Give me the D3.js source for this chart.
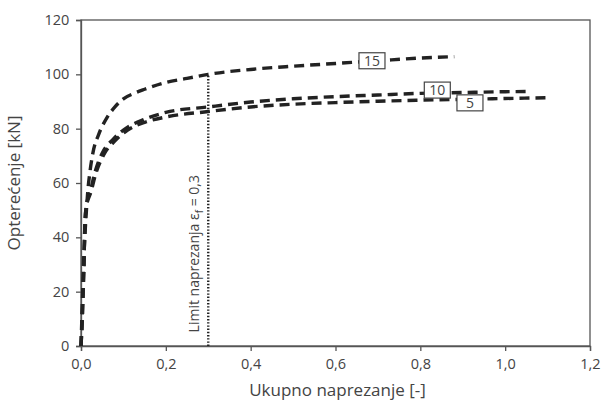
<!DOCTYPE html>
<meta charset="utf-8">
<body style="margin:0;background:#fff">
<script src="https://d3js.org/d3.v7.min.js"></script>
<script>
// values: [strain, load kN]
var strain15 = [0, 0.002, 0.004, 0.006, 0.009, 0.012, 0.016, 0.021, 0.028, 0.042, 0.061, 0.08, 0.1, 0.125, 0.15, 0.2, 0.25, 0.3, 0.4, 0.5, 0.6, 0.7, 0.8, 0.88];
var load15   = [0, 10, 20, 30, 40, 48, 57, 64, 71, 78, 84, 88, 91, 93, 94.5, 97, 98.5, 100, 101.8, 103, 104, 105, 106, 106.5];
var strain10 = [0, 0.003, 0.005, 0.007, 0.009, 0.012, 0.022, 0.033, 0.05, 0.075, 0.1, 0.15, 0.2, 0.3, 0.4, 0.5, 0.6, 0.7, 0.8, 0.9, 1.0, 1.05];
var load10   = [0, 10, 20, 30, 44.5, 51, 57, 64, 71, 76, 79.5, 83.5, 86, 88, 89.8, 91, 91.8, 92.4, 93, 93.3, 93.6, 93.7];
var strain5  = [0, 0.003, 0.005, 0.007, 0.009, 0.012, 0.024, 0.035, 0.054, 0.08, 0.11, 0.15, 0.2, 0.3, 0.4, 0.5, 0.6, 0.7, 0.8, 0.9, 1.0, 1.1];
var load5    = [0, 10, 20, 30, 44, 50.5, 57, 63.5, 70.5, 75.5, 79.5, 82.3, 84.3, 86.3, 88, 89, 89.6, 90.1, 90.5, 90.8, 91.1, 91.4];
var seriesNames = ["15", "10", "5"];
// where the curve labels sit [strain, load]
var labelAt = [[0.686, 105], [0.84, 94.2], [0.917, 89.5]];
var limitStrain = 0.3, limitLoad = 100;
var xTicks = [0, 0.2, 0.4, 0.6, 0.8, 1.0, 1.2];
var yTicks = [0, 20, 40, 60, 80, 100, 120];

var width = 601, height = 402;
var margin = {left: 81, top: 20, right: 11, bottom: 56};

var svg = d3.select("body").append("svg")
    .attr("width", width)
    .attr("height", height)
    .style("font-family", "'Open Sans', sans-serif");

var x = d3.scaleLinear().domain([0, 1.2]).range([margin.left, width - margin.right]);
var y = d3.scaleLinear().domain([0, 120]).range([height - margin.bottom, margin.top]);

var fmt = function(d) { return d3.format(".1f")(d).replace(".", ","); };

// frame
svg.append("rect")
    .attr("x", x(0)).attr("y", y(120))
    .attr("width", x(1.2) - x(0)).attr("height", y(0) - y(120))
    .attr("fill", "none").attr("stroke", "#555").attr("stroke-width", 1.3);

var xAxis = svg.append("g")
    .attr("transform", "translate(0," + y(0) + ")")
    .call(d3.axisBottom(x).tickValues(xTicks).tickFormat(fmt).tickSize(5));
var yAxis = svg.append("g")
    .attr("transform", "translate(" + x(0) + ",0)")
    .call(d3.axisLeft(y).tickValues(yTicks).tickSize(5));

[xAxis, yAxis].forEach(function(a) {
  a.select(".domain").attr("stroke", "#555").attr("stroke-width", 1.3);
  a.selectAll(".tick line").attr("stroke", "#555").attr("stroke-width", 1.3);
  a.selectAll(".tick text").attr("fill", "#444").style("font-size", "14.5px")
    .style("font-family", "'Open Sans', sans-serif");
});
xAxis.selectAll(".tick text").attr("dy", "1.05em");
yAxis.selectAll(".tick text").attr("dx", "-0.25em");

// axis titles
svg.append("text")
    .attr("x", (x(0) + x(1.2)) / 2 + 2).attr("y", 396)
    .attr("text-anchor", "middle").attr("fill", "#444")
    .style("font-size", "17px")
    .text("Ukupno naprezanje [-]");
svg.append("text")
    .attr("transform", "translate(20," + (y(60)) + ")rotate(-90)")
    .attr("text-anchor", "middle").attr("fill", "#444")
    .style("font-size", "17px")
    .text("Opterećenje [kN]");

// limit line
svg.append("line")
    .attr("x1", x(limitStrain)).attr("x2", x(limitStrain))
    .attr("y1", y(0)).attr("y2", y(limitLoad))
    .attr("stroke", "#222").attr("stroke-width", 2.4)
    .attr("stroke-dasharray", "1.4,1.8");

var lim = svg.append("text")
    .attr("transform", "translate(" + (x(limitStrain) - 9) + "," + (y(5)) + ")rotate(-90)")
    .attr("fill", "#444").style("font-size", "14px");
lim.append("tspan").text("Limit naprezanja ε");
lim.append("tspan").attr("dy", 4).style("font-size", "10px").text("f");
lim.append("tspan").attr("dy", -4).text(" = 0,3");

// curves
var line = d3.line().x(function(d) { return x(d[0]); }).y(function(d) { return y(d[1]); })
    .curve(d3.curveMonotoneX);
var series = [d3.zip(strain15, load15), d3.zip(strain10, load10), d3.zip(strain5, load5)];

svg.selectAll("path.curve")
    .data(series)
    .enter().append("path")
    .attr("class", "curve")
    .attr("d", line)
    .attr("fill", "none")
    .attr("stroke", "#222")
    .attr("stroke-width", 3.4)
    .attr("stroke-dasharray", "10,6");

// labels
var lab = svg.selectAll("g.lab")
    .data(seriesNames)
    .enter().append("g")
    .attr("class", "lab")
    .attr("transform", function(d, i) { return "translate(" + x(labelAt[i][0]) + "," + y(labelAt[i][1]) + ")"; });
lab.append("rect")
    .attr("x", -13).attr("y", -8).attr("width", 26).attr("height", 16)
    .attr("fill", "#fff").attr("stroke", "#444").attr("stroke-width", 1.2);
lab.append("text")
    .attr("text-anchor", "middle").attr("dy", "0.36em")
    .attr("fill", "#444").style("font-size", "14px")
    .text(function(d) { return d; });
</script>
</body>
</html>
